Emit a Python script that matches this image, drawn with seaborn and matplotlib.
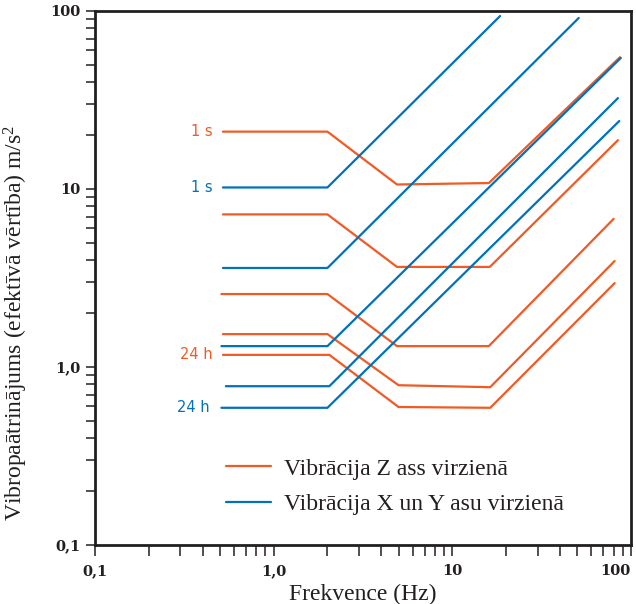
import numpy as np
import pandas as pd
import matplotlib
matplotlib.use("Agg")
import matplotlib.pyplot as plt
from matplotlib.lines import Line2D
import seaborn as sns

# ---- data ----
z_names = ["Z1", "Z2", "Z3", "Z4", "Z5"]
z_x = [
    [0.52, 2.0, 4.9, 16.0, 86.7],
    [0.52, 2.0, 4.9, 16.2, 84.5],
    [0.51, 2.0, 4.9, 16.0, 80.0],
    [0.52, 2.0, 5.0, 16.3, 81.0],
    [0.52, 2.05, 5.0, 16.3, 81.0],
]
z_y = [
    [21.0, 21.0, 10.6, 10.8, 55.0],
    [7.2, 7.2, 3.65, 3.65, 18.8],
    [2.57, 2.57, 1.31, 1.31, 6.8],
    [1.53, 1.53, 0.79, 0.77, 3.94],
    [1.17, 1.17, 0.596, 0.59, 2.96],
]
xy_names = ["X1", "X2", "X3", "X4", "X5"]
xy_x = [
    [0.52, 2.0, 18.5],
    [0.52, 2.0, 51.0],
    [0.51, 2.0, 87.7],
    [0.54, 2.05, 84.5],
    [0.51, 2.0, 86.0],
]
xy_y = [
    [10.2, 10.2, 93.7],
    [3.6, 3.6, 91.4],
    [1.31, 1.31, 54.5],
    [0.78, 0.78, 32.4],
    [0.59, 0.59, 24.1],
]
series_labels = ["Vibrācija Z ass virzienā", "Vibrācija X un Y asu virzienā"]
tick_vals = [0.1, 1, 10, 100]
tick_labels = ["0,1", "1,0", "10", "100"]
dur_labels = ["1 s", "24 h"]

ORANGE = "#F15A24"
BLUE = "#0071BC"
DARK = "#231F20"

rows = []
for n, xs, ys in zip(z_names, z_x, z_y):
    for i, (a, b) in enumerate(zip(xs, ys)):
        rows.append(dict(line=n, series=series_labels[0], f=a, a=b, order=i))
for n, xs, ys in zip(xy_names, xy_x, xy_y):
    for i, (a, b) in enumerate(zip(xs, ys)):
        rows.append(dict(line=n, series=series_labels[1], f=a, a=b, order=i))
df = pd.DataFrame(rows)

sns.set_theme(style="white")
plt.rcParams["font.family"] = ["Liberation Serif", "DejaVu Serif"]
plt.rcParams["mathtext.fontset"] = "custom"
plt.rcParams["mathtext.rm"] = "Liberation Serif"
plt.rcParams["mathtext.it"] = "Liberation Serif:italic"

fig = plt.figure(figsize=(6.36, 6.04), dpi=100)
ax = fig.add_axes([95 / 636, 1 - 545 / 604, 536 / 636, 534 / 604])

sns.lineplot(data=df, x="f", y="a", hue="series", units="line", estimator=None,
             sort=False, palette=[ORANGE, BLUE], linewidth=1.6, legend=False, ax=ax)

ax.set_xscale("log")
ax.set_yscale("log")
ax.set_xlim(0.1, 100)
ax.set_ylim(0.1, 100)

ax.set_xticks(tick_vals, tick_labels)
ax.set_yticks(tick_vals, tick_labels)
for lab in ax.get_xticklabels() + ax.get_yticklabels():
    lab.set_fontfamily("DejaVu Serif")
    lab.set_fontweight("bold")
    lab.set_fontsize(10.5)
    lab.set_color(DARK)
ax.get_xticklabels()[-1].set_horizontalalignment("right")

ax.tick_params(axis="x", which="both", bottom=True, top=False, direction="out",
               length=8, width=1.1, color=DARK, pad=6)
ax.tick_params(axis="y", which="both", left=True, right=False, direction="out",
               length=6.5, width=1.1, color=DARK, pad=4)
for s in ax.spines.values():
    s.set_linewidth(2.0)
    s.set_color(DARK)

ax.set_xlabel("Frekvence (Hz)", fontsize=17, color=DARK, labelpad=4)
ax.set_ylabel("Vibropaātrinājums (efektīvā vērtība) m/s$^2$", fontsize=17, color=DARK)
ax.yaxis.set_label_coords(-0.121, 0.415)

# duration labels
lab_font = dict(fontsize=10.5, family="DejaVu Sans", ha="right", va="center")
ax.text(0.455, z_y[0][0], dur_labels[0], color=ORANGE, **lab_font)
ax.text(0.455, xy_y[0][0], dur_labels[0], color=BLUE, **lab_font)
ax.text(0.455, z_y[4][0], dur_labels[1], color=ORANGE, **lab_font)
ax.text(0.44, xy_y[4][0], dur_labels[1], color=BLUE, **lab_font)

handles = [Line2D([], [], color=ORANGE, lw=1.6), Line2D([], [], color=BLUE, lw=1.6)]
ax.legend(handles, series_labels, loc="center left", bbox_to_anchor=(0.205, 0.109),
          frameon=False, fontsize=17, handlelength=1.9, handletextpad=0.55,
          labelspacing=0.6, labelcolor=DARK)

fig.savefig("out.png", dpi=100)
